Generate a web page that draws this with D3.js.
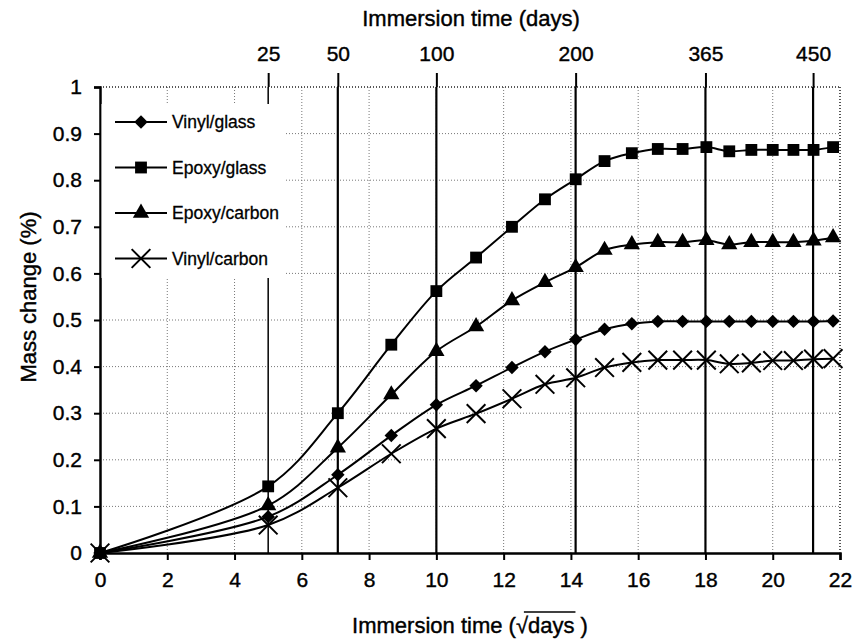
<!DOCTYPE html>
<html>
<head>
<meta charset="utf-8">
<script src="https://cdn.jsdelivr.net/npm/d3@7"></script>
<style>
  body { margin: 0; background: #fff; }
  svg text { font-family: "Liberation Sans", Arial, sans-serif; fill: #000; }
</style>
</head>
<body>
<div id="container"></div>
<script>
// immersion days of each weighing (x is plotted as sqrt of days)
const days = [0, 25, 50, 75, 100, 125, 150, 175, 200, 225, 250, 275, 300, 325, 350, 375, 400, 425, 450, 475];

const vinylGlass  = [0, 0.078, 0.168, 0.252, 0.318, 0.359, 0.398, 0.432, 0.458, 0.480, 0.492, 0.497, 0.497, 0.497, 0.497, 0.497, 0.497, 0.497, 0.497, 0.498];
const epoxyGlass  = [0, 0.143, 0.300, 0.447, 0.562, 0.634, 0.700, 0.759, 0.802, 0.841, 0.858, 0.867, 0.867, 0.871, 0.862, 0.865, 0.865, 0.865, 0.865, 0.871];
const epoxyCarbon = [0, 0.102, 0.226, 0.340, 0.433, 0.486, 0.542, 0.581, 0.613, 0.650, 0.662, 0.667, 0.667, 0.671, 0.662, 0.667, 0.667, 0.667, 0.670, 0.677];
const vinylCarbon = [0, 0.060, 0.140, 0.213, 0.267, 0.299, 0.331, 0.362, 0.376, 0.398, 0.409, 0.414, 0.414, 0.414, 0.406, 0.408, 0.413, 0.413, 0.416, 0.417];

const seriesNames = ["Vinyl/glass", "Epoxy/glass", "Epoxy/carbon", "Vinyl/carbon"];

const xTicks = [0, 2, 4, 6, 8, 10, 12, 14, 16, 18, 20, 22];
const yTicks = [0, 0.1, 0.2, 0.3, 0.4, 0.5, 0.6, 0.7, 0.8, 0.9, 1];

// marker lines on the top axis: label in days, position in sqrt(days)
const topLabels = ["25", "50", "100", "200", "365", "450"];
const topAt = [5, 7.07, 10, 14.14, 18, 21.2];

const W = 855, H = 640;
const margin = {top: 87, right: 15, bottom: 87, left: 100};

const svg = d3.select("#container").append("svg")
  .attr("width", W)
  .attr("height", H);

const x = d3.scaleLinear().domain([0, 22]).range([margin.left, W - margin.right]);
const y = d3.scaleLinear().domain([0, 1]).range([H - margin.bottom - 0, margin.top]);

const x0 = x(0), x1 = x(22), yb = y(0), yt = y(1);

// grid
svg.append("g")
  .selectAll("line")
  .data(xTicks.slice(1))
  .join("line")
  .attr("x1", d => x(d)).attr("x2", d => x(d))
  .attr("y1", yt).attr("y2", yb)
  .attr("stroke", "#777")
  .attr("stroke-width", 1)
  .attr("stroke-dasharray", "1,2");

svg.append("g")
  .selectAll("line")
  .data(yTicks.slice(1))
  .join("line")
  .attr("x1", x0).attr("x2", x1)
  .attr("y1", d => y(d)).attr("y2", d => y(d))
  .attr("stroke", d => d === 1 ? "#222" : "#777")
  .attr("stroke-width", d => d === 1 ? 1.5 : 1)
  .attr("stroke-dasharray", "1,2");

// top axis with the day markers
const topAxis = svg.append("g")
  .attr("transform", `translate(0,${yt})`)
  .call(d3.axisTop(x).tickValues(topAt).tickFormat((d, i) => topLabels[i]).tickSize(14).tickPadding(12));
topAxis.select(".domain").remove();
topAxis.selectAll("line").attr("stroke", "#000").attr("stroke-width", 2);
topAxis.selectAll("text").attr("font-size", "21px").attr("font-family", "Liberation Sans, Arial, sans-serif")
  .attr("stroke", "#000").attr("stroke-width", 0.4);

// vertical day-marker lines through the plot
svg.append("g")
  .selectAll("line")
  .data(topAt)
  .join("line")
  .attr("x1", d => x(d)).attr("x2", d => x(d))
  .attr("y1", yt).attr("y2", yb)
  .attr("stroke", "#000")
  .attr("stroke-width", (d, i) => i === 0 ? 1.5 : 2.2);

// series
const line = d3.line()
  .x(d => x(Math.sqrt(d[0])))
  .y(d => y(d[1]))
  .curve(d3.curveCatmullRom);

const allSeries = [vinylGlass, epoxyGlass, epoxyCarbon, vinylCarbon];

const markers = [
  {type: d3.symbolSquare, size: 90, rotate: 45, fill: "#000", stroke: "none"},
  {type: d3.symbolSquare, size: 140, rotate: 0, fill: "#000", stroke: "none"},
  {type: d3.symbolTriangle, size: 115, rotate: 0, fill: "#000", stroke: "none"},
  {type: d3.symbolTimes, size: 230, rotate: 0, fill: "none", stroke: "#000"}
];

function drawMarker(g, m, cx, cy) {
  g.append("path")
    .attr("d", d3.symbol(m.type, m.size)())
    .attr("transform", `translate(${cx},${cy}) rotate(${m.rotate})`)
    .attr("fill", m.fill)
    .attr("stroke", m.stroke)
    .attr("stroke-width", 2);
}

allSeries.forEach((vals, k) => {
  const pts = days.map((d, i) => [d, vals[i]]);
  const g = svg.append("g");
  g.append("path")
    .attr("d", line(pts))
    .attr("fill", "none")
    .attr("stroke", "#000")
    .attr("stroke-width", 2);
  pts.forEach(p => drawMarker(g, markers[k], x(Math.sqrt(p[0])), y(p[1])));
});

// axes
const xAxis = svg.append("g")
  .attr("transform", `translate(0,${yb})`)
  .call(d3.axisBottom(x).tickValues(xTicks).tickSize(7).tickPadding(12));
xAxis.select(".domain").attr("stroke-width", 2.5);
xAxis.selectAll("line").attr("stroke-width", 2);
xAxis.selectAll("text").attr("font-size", "21px").attr("font-family", "Liberation Sans, Arial, sans-serif")
  .attr("stroke", "#000").attr("stroke-width", 0.4);

const yAxis = svg.append("g")
  .attr("transform", `translate(${x0},0)`)
  .call(d3.axisLeft(y).tickValues(yTicks).tickFormat(d3.format("~g")).tickSize(6).tickPadding(12));
yAxis.select(".domain").attr("stroke-width", 2.5);
yAxis.selectAll("line").attr("stroke-width", 2);
yAxis.selectAll("text").attr("font-size", "21px").attr("font-family", "Liberation Sans, Arial, sans-serif")
  .attr("stroke", "#000").attr("stroke-width", 0.4);

// right border
svg.append("line")
  .attr("x1", x1).attr("x2", x1)
  .attr("y1", yt).attr("y2", yb)
  .attr("stroke", "#333")
  .attr("stroke-width", 1.5)
  .attr("stroke-dasharray", "1,2");

// legend
const legend = svg.append("g");
legend.append("rect")
  .attr("x", x0 + 1.5).attr("y", 104)
  .attr("width", 184).attr("height", 174)
  .attr("fill", "#fff");

seriesNames.forEach((name, i) => {
  const ly = 122 + i * 45.5;
  legend.append("line")
    .attr("x1", 115).attr("x2", 167)
    .attr("y1", ly).attr("y2", ly)
    .attr("stroke", "#000").attr("stroke-width", 2);
  drawMarker(legend, markers[i], 141, ly);
  legend.append("text")
    .attr("x", 172).attr("y", ly + 6)
    .attr("font-size", "17.5px")
    .attr("stroke", "#000").attr("stroke-width", 0.3)
    .text(name);
});

// titles
svg.append("text")
  .attr("x", 471).attr("y", 26)
  .attr("text-anchor", "middle")
  .attr("font-size", "22px")
  .attr("stroke", "#000").attr("stroke-width", 0.4)
  .text("Immersion time (days)");

svg.append("text")
  .attr("transform", `translate(36,297) rotate(-90)`)
  .attr("text-anchor", "middle")
  .attr("font-size", "22px")
  .attr("stroke", "#000").attr("stroke-width", 0.4)
  .text("Mass change (%)");

const bt = svg.append("text")
  .attr("x", 470).attr("y", 633)
  .attr("text-anchor", "middle")
  .attr("font-size", "22px")
  .attr("stroke", "#000").attr("stroke-width", 0.4);
bt.append("tspan").text("Immersion time (");
bt.append("tspan").text("\u221A");
bt.append("tspan").text("days");
bt.append("tspan").text(" )");

// overbar above "days" following the radical sign
const node = bt.node();
const start = "Immersion time (\u221A".length;
const p0 = node.getStartPositionOfChar(start - 1);
const p1 = node.getEndPositionOfChar(start + 3);
svg.append("line")
  .attr("x1", p0.x + 8).attr("x2", p1.x + 1)
  .attr("y1", 612).attr("y2", 612)
  .attr("stroke", "#000").attr("stroke-width", 1.5);
</script>
</body>
</html>
